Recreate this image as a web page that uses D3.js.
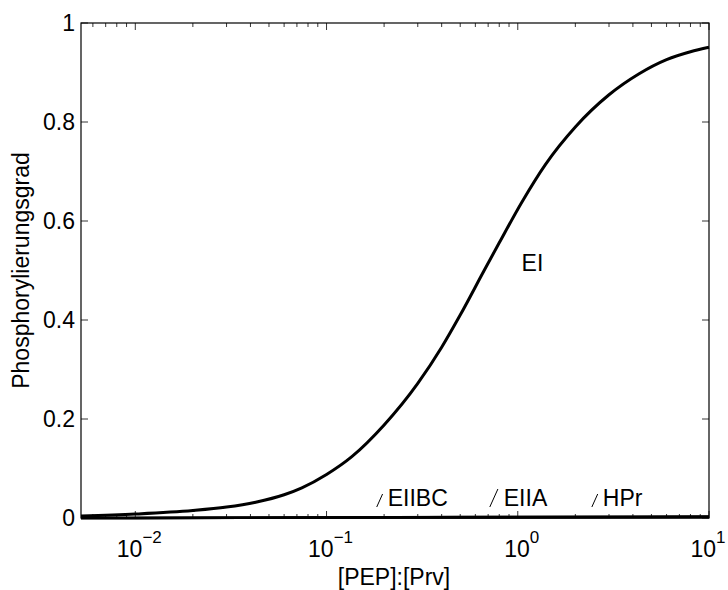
<!DOCTYPE html>
<html>
<head>
<meta charset="utf-8">
<script src="https://cdn.jsdelivr.net/npm/d3@7"></script>
<style>
  body { margin: 0; background: #fff; }
  svg { display: block; font-family: "Liberation Sans", Arial, Helvetica, sans-serif; }
</style>
</head>
<body>
<svg id="chart" width="728" height="590"></svg>
<script>
// ---- data ----
const ratioEI = [0.0052, 0.01, 0.02, 0.03, 0.0426, 0.06, 0.0743, 0.1, 0.1356, 0.2, 0.3, 0.4, 0.5, 0.667, 0.8, 1.05, 1.4, 2, 3, 4.29, 6, 8, 10];
const phosEI  = [0.004, 0.008, 0.015, 0.022, 0.032, 0.047, 0.061, 0.088, 0.124, 0.188, 0.272, 0.345, 0.41, 0.50, 0.556, 0.638, 0.715, 0.79, 0.855, 0.897, 0.926, 0.942, 0.951];
const ratioLow = [0.0052, 0.01, 0.1, 1, 10];
const phosEIIBC = [0, 0, 0.001, 0.002, 0.003];
const phosEIIA  = [0, 0, 0.001, 0.002, 0.002];
const phosHPr   = [0, 0, 0.001, 0.001, 0.002];
const seriesNames = ["EI", "EIIBC", "EIIA", "HPr"];
const labelPos = [[1.06, 0.5], [0.183, 0], [0.714, 0], [2.44, 0]]; // annotation anchors
const xTicks = [0.01, 0.1, 1, 10];
const xTickExp = ["\u22122", "\u22121", "0", "1"];
const yTicks = [0, 0.2, 0.4, 0.6, 0.8, 1];
const yTickLabels = ["0", "0.2", "0.4", "0.6", "0.8", "1"];
const xTitle = "[PEP]:[Prv]";
const yTitle = "Phosphorylierungsgrad";

// ---- layout ----
const svg = d3.select("#chart");
const L = 81, R = 709, T = 23, B = 518;
const x = d3.scaleLog().domain([0.0052, 10]).range([L, R]);
const y = d3.scaleLinear().domain([0, 1]).range([B, T]);
const FS = 23;

// minor ticks
const minor = [];
for (let e = -3; e <= 0; e++) for (let m = 2; m <= 9; m++) {
  const v = m * Math.pow(10, e);
  if (v >= 0.0052 && v <= 10) minor.push(v);
}
const g = svg.append("g");
minor.forEach(v => {
  g.append("line").attr("x1", x(v)).attr("x2", x(v)).attr("y1", B).attr("y2", B - 4).attr("stroke", "#000").attr("stroke-width", 0.8);
  g.append("line").attr("x1", x(v)).attr("x2", x(v)).attr("y1", T).attr("y2", T + 4).attr("stroke", "#000").attr("stroke-width", 0.8);
});
xTicks.forEach(v => {
  g.append("line").attr("x1", x(v)).attr("x2", x(v)).attr("y1", B).attr("y2", B - 7).attr("stroke", "#000").attr("stroke-width", 0.8);
  g.append("line").attr("x1", x(v)).attr("x2", x(v)).attr("y1", T).attr("y2", T + 7).attr("stroke", "#000").attr("stroke-width", 0.8);
});
yTicks.forEach(v => {
  g.append("line").attr("x1", L).attr("x2", L + 7).attr("y1", y(v)).attr("y2", y(v)).attr("stroke", "#000").attr("stroke-width", 0.8);
  g.append("line").attr("x1", R).attr("x2", R - 7).attr("y1", y(v)).attr("y2", y(v)).attr("stroke", "#000").attr("stroke-width", 0.8);
});

// y tick labels
yTicks.forEach((v, i) => {
  svg.append("text").attr("x", L - 6).attr("y", y(v) + 8).attr("text-anchor", "end")
    .attr("font-size", FS).text(yTickLabels[i]);
});
// x tick labels 10^n
xTicks.forEach((v, i) => {
  const off = i === xTicks.length - 1 ? -1 : 4;
  const t = svg.append("text").attr("x", x(v) + off).attr("y", 557).attr("text-anchor", "middle").attr("font-size", FS);
  t.append("tspan").text("10");
  t.append("tspan").attr("dy", -14).attr("font-size", 17).text(xTickExp[i]);
});

// titles
svg.append("text").attr("x", (L + R) / 2 - 1).attr("y", 585).attr("text-anchor", "middle").attr("font-size", FS).text(xTitle);
svg.append("text").attr("transform", `translate(29,${(T + B) / 2}) rotate(-90)`).attr("text-anchor", "middle").attr("font-size", FS).text(yTitle);

// curves
const line = d3.line().x(d => x(d[0])).y(d => y(d[1])).curve(d3.curveMonotoneX);
[phosEIIBC, phosEIIA, phosHPr].forEach(s => {
  svg.append("path").datum(ratioLow.map((r, i) => [r, s[i]])).attr("d", line)
    .attr("fill", "none").attr("stroke", "#000").attr("stroke-width", 2.5);
});
svg.append("path").datum(ratioEI.map((r, i) => [r, phosEI[i]])).attr("d", line)
  .attr("fill", "none").attr("stroke", "#000").attr("stroke-width", 3);

// frame
svg.append("rect").attr("x", L).attr("y", T).attr("width", R - L).attr("height", B - T)
  .attr("fill", "none").attr("stroke", "#000").attr("stroke-width", 1.2);

// labels
svg.append("text").attr("x", x(labelPos[0][0]) - 1).attr("y", y(labelPos[0][1]) + 0).attr("font-size", FS).text(seriesNames[0]);
[1, 2, 3].forEach(i => {
  const lx = x(labelPos[i][0]);
  const len = i === 2 ? 18 : 13;
  svg.append("line").attr("x1", lx).attr("y1", 507).attr("x2", lx + len * 0.45).attr("y2", 507 - len)
    .attr("stroke", "#000").attr("stroke-width", 1);
  svg.append("text").attr("x", lx + 11 + (i === 2 ? 3 : 0)).attr("y", 506).attr("font-size", FS).text(seriesNames[i]);
});
</script>
</body>
</html>
